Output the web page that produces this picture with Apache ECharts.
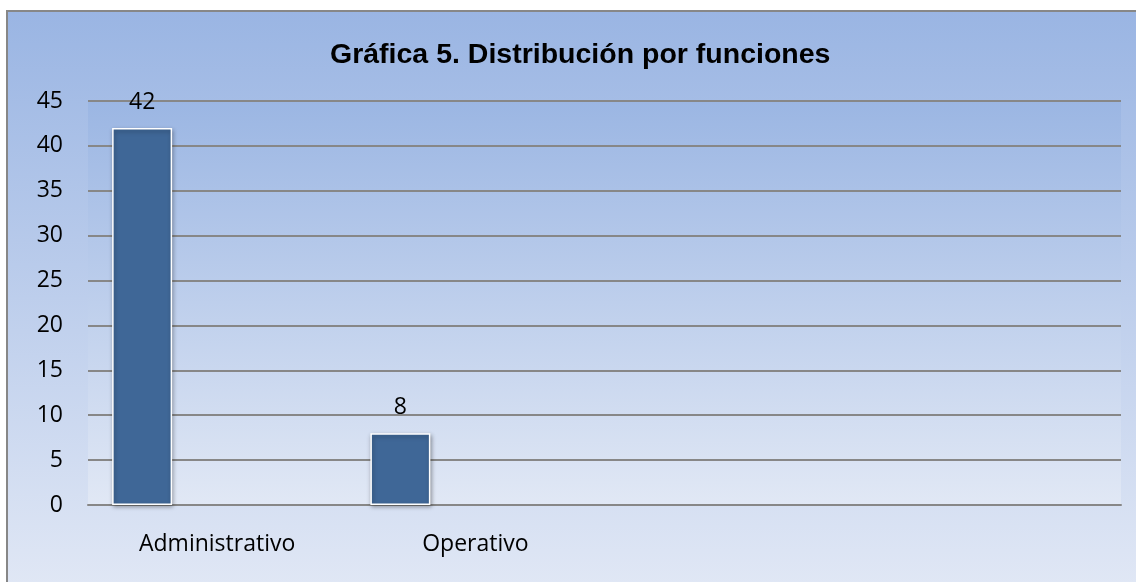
<!DOCTYPE html>
<html>
<head>
<meta charset="utf-8">
<title>Gráfica 5</title>
<script src="https://cdn.jsdelivr.net/npm/echarts@6/dist/echarts.min.js"></script>
<style>
  html, body { margin: 0; padding: 0; background: #ffffff; overflow: hidden; }
  /* marco exterior del gráfico (estilo Excel) */
  #chart {
    position: absolute;
    left: 6px;
    top: 10px;
    width: 1130px;
    height: 572px;
    border-top: 2px solid #878787;
    border-left: 2px solid #878787;
    background: linear-gradient(to bottom, #9ab5e3 0%, #e0e7f5 100%);
  }
</style>
</head>
<body>
<div id="chart"></div>
<script>
// datos de la gráfica
const categories = ['Administrativo', 'Operativo', '', '']
const values = [42, 8, '-', '-']
const yTicks = { min: 0, max: 45, interval: 5 }

const labelFont = '"Open Sans", Lato, sans-serif'

const chart = echarts.init(document.getElementById('chart'), null, { renderer: 'canvas' })

const option = {
  backgroundColor: 'transparent',
  animation: false,
  title: {
    text: 'Gráfica 5. Distribución por funciones',
    left: 317,
    top: 24,
    textStyle: {
      fontFamily: '"Liberation Sans", Arial, sans-serif',
      fontWeight: 'bold',
      fontSize: 28.5,
      color: '#000'
    }
  },
  grid: {
    left: 80,
    right: 17,
    top: 89,
    bottom: 79,
    show: true,
    borderWidth: 0,
    backgroundColor: new echarts.graphic.LinearGradient(0, 0, 0, 1, [
      { offset: 0, color: '#9bb6e3' },
      { offset: 1, color: '#e1e8f5' }
    ])
  },
  xAxis: {
    type: 'category',
    data: categories,
    axisLine: { show: true, lineStyle: { color: '#878787', width: 2 } },
    axisTick: { show: false },
    axisLabel: {
      margin: 28,
      fontFamily: labelFont,
      fontSize: 23,
      color: '#000'
    },
    splitLine: { show: false }
  },
  yAxis: {
    type: 'value',
    min: yTicks.min,
    max: yTicks.max,
    interval: yTicks.interval,
    axisLine: { show: false },
    axisTick: { show: false },
    axisLabel: {
      margin: 25,
      fontFamily: labelFont,
      fontSize: 23,
      color: '#000'
    },
    splitLine: { show: true, lineStyle: { color: '#878787', width: 2 } }
  },
  series: [
    {
      name: 'Funciones',
      type: 'bar',
      data: values,
      barWidth: 60,
      barGap: '150%',
      itemStyle: {
        color: '#3f6797',
        borderColor: '#ffffff',
        borderWidth: 1.5,
        shadowColor: 'rgba(0,0,0,0.35)',
        shadowBlur: 4,
        shadowOffsetX: 1,
        shadowOffsetY: 2
      },
      label: {
        show: true,
        position: 'top',
        distance: 14,
        fontFamily: labelFont,
        fontSize: 23,
        color: '#000'
      }
    },
    {
      // serie vacía: reserva el hueco derecho del grupo como en Excel
      name: 'hueco',
      type: 'bar',
      data: ['-', '-', '-', '-'],
      barWidth: 60,
      silent: true
    }
  ]
}

chart.setOption(option)
</script>
</body>
</html>
